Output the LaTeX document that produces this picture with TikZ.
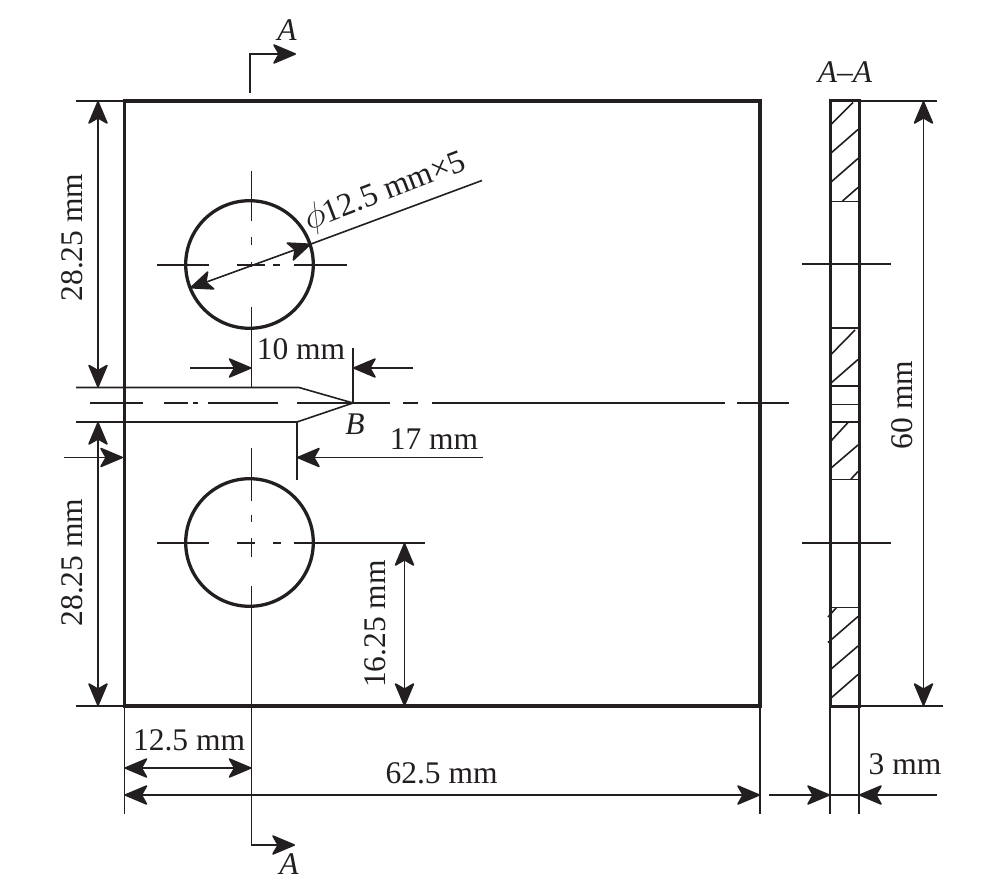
\documentclass[tikz,border=0pt]{standalone}
\usepackage{fontspec}
\setmainfont{Liberation Serif}
\usetikzlibrary{arrows.meta}
\definecolor{ink}{HTML}{231F20}
\tikzset{
  outline/.style={draw=ink,line width=3.3pt},
  thick section/.style={draw=ink,line width=3pt},
  thin line/.style={draw=ink,line width=1.6pt},
  hatch line/.style={draw=ink,line width=1.6pt},
  tip/.tip={Stealth[length=25pt,width=21pt,inset=6pt,round=false]},
  dim/.style={thin line,-{tip}},
  dimboth/.style={thin line,{tip}-{tip}},
  label/.style={inner sep=0pt,text=ink,font=\fontsize{31.5}{31.5}\selectfont},
  ilabel/.style={label,font=\fontsize{31.5}{31.5}\selectfont\itshape},
}
\begin{document}
\begin{tikzpicture}[x=1pt,y=-1pt]
\useasboundingbox[fill=white] (0,0) rectangle (1000,885);

% key coordinates
\coordinate (TL) at (124.5,101);
\coordinate (TR) at (760,101);
\coordinate (BR) at (760,706);
\coordinate (BL) at (124.5,706);
\coordinate (H1) at (249.5,264.5);
\coordinate (H2) at (249.5,542.5);
\coordinate (Btip) at (353,403);
\coordinate (NT) at (299,387.5);
\coordinate (NB) at (297,422);
\coordinate (SL) at (830,101);
\coordinate (SR) at (859,101);
\coordinate (SLb) at (830,706);
\coordinate (SRb) at (859,706);

% plate and holes
\draw[outline] (TL) -- (TR) -- (BR) -- (BL) -- cycle;
\draw[outline] (H1) circle[radius=63.8];
\draw[outline] (H2) circle[radius=63.8];

% notch
\draw[thin line] (76,387.5) -- (NT) -- (Btip) -- (NB) -- (76,422);
\draw[thin line] (NB) -- (297,480);
\draw[thin line] (Btip) -- (353,348);

% main centre line
\foreach \a/\b in {90/142.5,164/188,193/198,208/278,297/390,403/418,432/725,737/789}
  \draw[thin line] (\a,403) -- (\b,403);

% centre lines of upper hole
\foreach \a/\b in {171/221,237/245,262/267,307/387.5}
  \draw[thin line] (251.5,\a) -- (251.5,\b);
\foreach \a/\b in {157/209,237/265,273/280,294/347}
  \draw[thin line] (\a,265) -- (\b,265);

% centre lines of lower hole
\foreach \a/\b in {448/501,515/522,538/557}
  \draw[thin line] (251.5,\a) -- (251.5,\b);
\foreach \a/\b in {157/209,237/255,273/281,294/425}
  \draw[thin line] (\a,543) -- (\b,543);

% cutting plane A-A
\draw[dim] (250,93) -- (250,54) -- (296,54);
\draw[dim] (251.5,586) -- (251.5,845) -- (295,845);
\node[ilabel] (Atop) at (287,30) {A};
\node[ilabel] (Abot) at (289,864) {A};

% phi leader
\coordinate (PhiA) at (190,288);
\coordinate (PhiB) at (311,244);
\draw[dimboth] (PhiA) -- (PhiB);
\draw[thin line] (PhiB) -- (482,180.5);
\node[inner sep=0pt,text=ink,font=\fontsize{32.5}{32.5}\selectfont,rotate=21] (phi) at (385,191.5) {\scalebox{1.45}{$\phi$}\kern-1pt 12.5 mm×5};

% dim 10 mm
\draw[dim] (190,368) -- (251.5,368);
\draw[dim] (413,368) -- (353,368);
\node[label] (d10) at (301,349) {10 mm};

% dim 17 mm
\draw[dim] (64,457.5) -- (123,457.5);
\draw[dim] (482.5,457.5) -- (297,457.5);
\node[label] (d17) at (434,439.5) {17 mm};
\node[ilabel] (B) at (355,424) {B};

% left dims
\draw[thin line] (76,101) -- (TL);
\draw[thin line] (76,706) -- (BL);
\draw[dimboth] (98,101) -- (98,387.5);
\draw[dimboth] (98,422) -- (98,706);
\node[label,rotate=90] (d28a) at (72,237.5) {28.25 mm};
\node[label,rotate=90] (d28b) at (72,562.5) {28.25 mm};

% 16.25
\draw[dimboth] (404.5,543) -- (404.5,706);
\node[label,rotate=90] (d16) at (375,624) {16.25 mm};

% bottom dims
\draw[thin line] (BL) -- (124.5,814);
\draw[thin line] (BR) -- (760,814);
\draw[thin line] (251.5,706) -- (251.5,768);
\draw[dimboth] (124.5,768) -- (251.5,768);
\draw[dimboth] (124.5,795) -- (760,795);
\node[label] (d12) at (189,740) {12.5 mm};
\node[label] (d62) at (441.5,773) {62.5 mm};

% section view
\foreach \y in {201.5,328,386,404.5,422,479.5,607.5}
  \draw[thin line] (830,\y) -- (859,\y);
\foreach \xa/\ya/\xb/\yb in {
  830.5/125/853/102.5, 830.5/153.5/858/129.5, 830.5/182.5/858/158.5, 842.5/201/858/187.5,
  830.5/355/855/330, 830.5/383.5/858/359.5, 830.5/441.5/848/422.5, 830.5/468.5/858/445, 851/479/858/471.5,
  828/617/836.5/607.5, 828/642.5/858/616.5, 830.5/669.5/858/646, 830.5/698.5/858/674.5}
  \draw[hatch line] (\xa,\ya) -- (\xb,\yb);
\foreach \y in {264,543}
  \draw[thin line] (802,\y) -- (890.5,\y);
\draw[thick section] (SL) -- (SR) -- (SRb) -- (SLb) -- cycle;
\node[ilabel] (AA) at (845,72) {A–A};

% section dims
\draw[thin line] (SR) -- (936.5,101);
\draw[thin line] (SRb) -- (942.5,706);
\draw[dimboth] (923.5,101) -- (923.5,706);
\node[label,rotate=90] (d60) at (902,405) {60 mm};
\draw[thin line] (SLb) -- (830,814);
\draw[thin line] (SRb) -- (859,814);
\draw[thin line] (830,795) -- (859,795);
\draw[dim] (769,795) -- (830,795);
\draw[dim] (937,795) -- (859,795);
\node[label] (d3) at (905,764) {3 mm};
\end{tikzpicture}
\end{document}
